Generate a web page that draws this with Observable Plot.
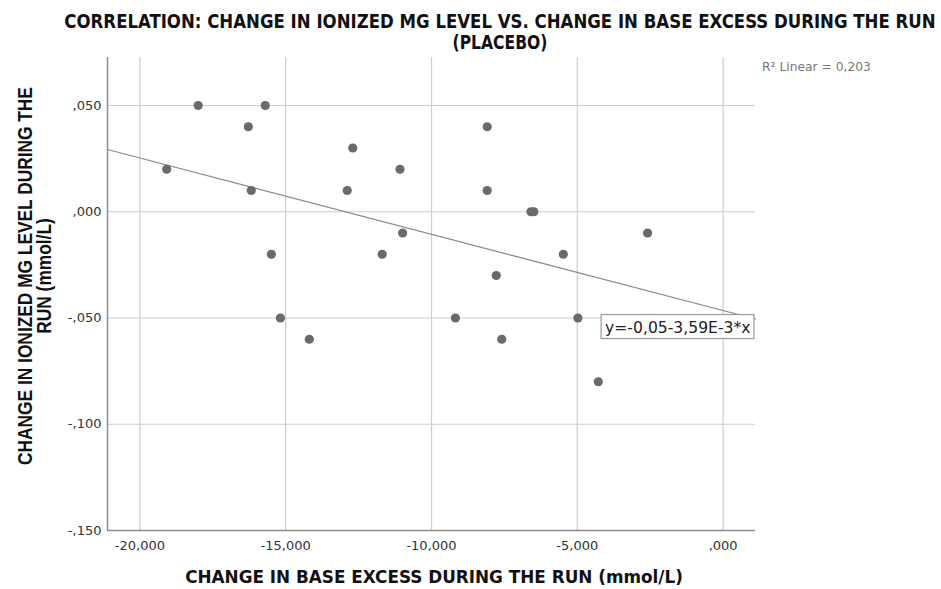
<!DOCTYPE html>
<html>
<head>
<meta charset="utf-8">
<script src="https://cdn.jsdelivr.net/npm/d3@7"></script>
<script src="https://cdn.jsdelivr.net/npm/@observablehq/plot@0.6"></script>
<style>
  body { margin: 0; background: #fff; }
  #chart { width: 941px; height: 589px; }
</style>
</head>
<body>
<div id="chart"></div>
<script>
// ---- Data ----
const titleLines = [
  "CORRELATION: CHANGE IN IONIZED MG LEVEL VS. CHANGE IN BASE EXCESS DURING THE RUN",
  "(PLACEBO)"
];
const xLabel = "CHANGE IN BASE EXCESS DURING THE RUN (mmol/L)";
const yLabelLines = ["CHANGE IN IONIZED MG LEVEL DURING THE", "RUN (mmol/L)"];
const r2Label = "R² Linear = 0,203";
const equationLabel = "y=-0,05-3,59E-3*x";

// Change in base excess during the run (mmol/L)
const baseExcessChange = [
  -19.08, -18.00, -16.28, -16.18, -15.70, -15.49, -15.18, -14.19,
  -12.89, -12.70, -11.69, -11.08, -10.99, -9.18, -8.09, -8.09,
  -7.78, -7.59, -6.59, -6.49, -5.48, -4.98, -4.28, -2.59
];
// Change in ionized Mg level during the run (mmol/L)
const mgChange = [
  0.02, 0.05, 0.04, 0.01, 0.05, -0.02, -0.05, -0.06,
  0.01, 0.03, -0.02, 0.02, -0.01, -0.05, 0.04, 0.01,
  -0.03, -0.06, 0.00, 0.00, -0.02, -0.05, -0.08, -0.01
];
const xTicks = [-20, -15, -10, -5, 0];
const yTicks = [-0.15, -0.10, -0.05, 0.00, 0.05];

// ---- Build ----
const xDomain = [-21.11, 1.11];
const yDomain = [-0.15, 0.0726];
const fmt = v => v.toFixed(3).replace(/^(-?)0\./, "$1.").replace(".", ",");

const data = baseExcessChange.map((x, i) => ({x, y: mgChange[i]}));

// least-squares fit line computed from the data
const mx = d3.mean(baseExcessChange), my = d3.mean(mgChange);
const sxy = d3.sum(data, d => (d.x - mx) * (d.y - my));
const sxx = d3.sum(data, d => (d.x - mx) ** 2);
const slope = sxy / sxx, intercept = my - slope * mx;
const fitLine = xDomain.map(x => ({x, y: intercept + slope * x}));

const gridColor = "#cdcdcd";
const axisColor = "#8c8c8c";

const plot = Plot.plot({
  width: 941,
  height: 589,
  marginTop: 57,
  marginBottom: 59,
  marginLeft: 107,
  marginRight: 186,
  style: {fontFamily: "'DejaVu Sans', sans-serif", fontSize: "13px", color: "#333", background: "#fff"},
  x: {domain: xDomain, label: null},
  y: {domain: yDomain, label: null},
  marks: [
    Plot.gridX(xTicks, {stroke: gridColor, strokeOpacity: 1, strokeWidth: 1.2}),
    Plot.gridY(yTicks.filter(v => v > yDomain[0]), {stroke: gridColor, strokeOpacity: 1, strokeWidth: 1.2}),
    Plot.ruleX([xDomain[0]], {stroke: axisColor, strokeWidth: 1.5}),
    Plot.ruleY([yDomain[0]], {stroke: axisColor, strokeWidth: 1.5}),
    Plot.axisX(xTicks, {tickSize: 0, tickPadding: 10, tickFormat: fmt, label: null, fill: "#333"}),
    Plot.axisY(yTicks, {tickSize: 0, tickPadding: 6, tickFormat: fmt, label: null, fill: "#333"}),
    Plot.line(fitLine, {x: "x", y: "y", stroke: "#8a8a8a", strokeWidth: 1.2}),
    Plot.dot(data, {x: "x", y: "y", r: 4.6, fill: "#6a6a6a", stroke: "none"})
  ]
});
document.getElementById("chart").appendChild(plot);

// ---- Annotations (titles, labels, fit-line label) ----
const svg = d3.select(plot);
const xs = plot.scale("x"), ys = plot.scale("y");
const condensed = "'Liberation Sans Narrow', 'DejaVu Sans Condensed', 'Liberation Sans', Arial, sans-serif";

function addText(parent, txt, x, y, opts) {
  return parent.append("text")
    .attr("x", x).attr("y", y)
    .attr("text-anchor", opts.anchor || "middle")
    .attr("font-family", opts.family || condensed)
    .attr("font-size", opts.size)
    .attr("font-weight", opts.weight || "normal")
    .attr("fill", opts.fill || "#111")
    .text(txt);
}
// centred text squeezed horizontally (via a transform) to a given width
function fittedText(parent, txt, cx, baseline, width, opts) {
  const g = parent.append("g");
  const t = addText(g, txt, 0, 0, opts);
  const nat = t.node().getComputedTextLength();
  const sx = width / nat;
  g.attr("transform", `translate(${cx},${baseline}) scale(${sx},1)`);
  return sx;
}

fittedText(svg, titleLines[0], 500, 28, 872, {size: 19, weight: "bold"});
fittedText(svg, titleLines[1], 500, 49, 95, {size: 19, weight: "bold"});
fittedText(svg, xLabel, 434, 583, 498, {size: 18.5, weight: "bold"});

// rotated y-axis title (two lines, centred)
const yLabG = svg.append("g").attr("transform", "translate(0,276) rotate(-90)");
const yFont = "'Liberation Sans', Arial, sans-serif";
const sy = fittedText(yLabG, yLabelLines[0], 0, 32, 378, {size: 19.5, weight: "bold", family: yFont});
const g2 = yLabG.append("g").attr("transform", `translate(0,51) scale(${sy},1)`);
addText(g2, yLabelLines[1], 0, 0, {size: 19.5, weight: "bold", family: yFont});

addText(svg, r2Label, 762, 71, {size: 12.3, anchor: "start", family: "'DejaVu Sans', sans-serif", fill: "#777"});

// equation label box anchored at the right end of the fit line
const ex = xs.apply(xDomain[1]);
const ey = ys.apply(intercept + slope * xDomain[1]);
const eqText = addText(svg, equationLabel, ex - 4.5, ey + 14, {size: 15.6, anchor: "end", family: "'DejaVu Sans', sans-serif", fill: "#222"});
const bb = eqText.node().getBBox();
svg.insert("rect", () => eqText.node())
  .attr("x", bb.x - 4).attr("y", ey - 4)
  .attr("width", ex - 1 - (bb.x - 4)).attr("height", 24)
  .attr("fill", "#fff").attr("stroke", "#9a9a9a").attr("stroke-width", 1.2);
</script>
</body>
</html>
